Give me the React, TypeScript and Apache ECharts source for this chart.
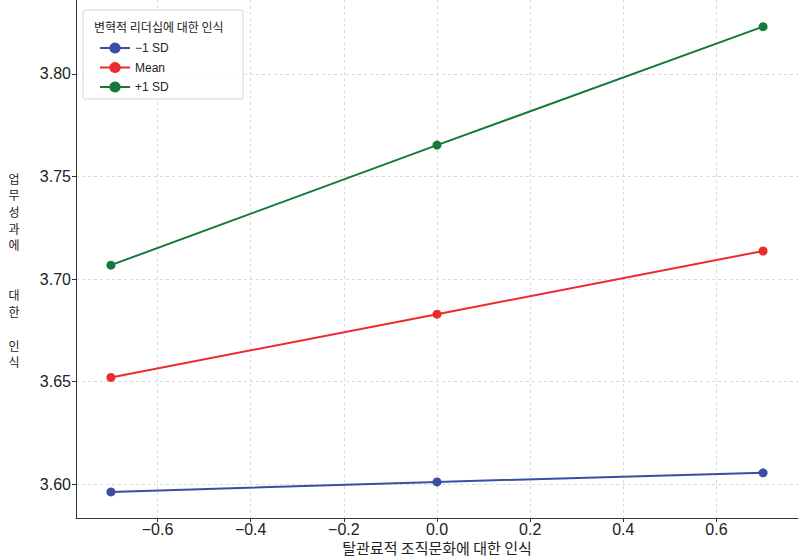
import React, { useEffect, useRef } from "react";
import * as echarts from "echarts";

const xValues = [-0.7, 0.0, 0.7];
const seriesNames = ["−1 SD", "Mean", "+1 SD"];
const lowValues = [3.5963, 3.6012, 3.6056];
const meanValues = [3.6521, 3.6829, 3.7137];
const highValues = [3.7068, 3.7653, 3.823];
const seriesColors = ["#3a4ea6", "#ed2a2e", "#147a3b"];
const xTitle = "탈관료적 조직문화에 대한 인식";
const yTitleLines = ["업", "무", "성", "과", "에", "", "", "대", "한", "", "인", "식"];
const legendTitle = "변혁적 리더십에 대한 인식";

const numFont = "'Liberation Sans', 'Noto Sans CJK KR', sans-serif";
const krFont = "'Noto Sans CJK KR', 'Liberation Sans', sans-serif";

export default function App() {
  const ref = useRef<HTMLDivElement>(null);
  useEffect(() => {
    if (!ref.current) return;
    const chart = echarts.init(ref.current, null, { renderer: "svg" });
    const allValues = [lowValues, meanValues, highValues];
    const series = allValues.map((vals, i) => ({
      name: seriesNames[i],
      type: "line",
      data: xValues.map((x, j) => [x, vals[j]]),
      symbol: "circle",
      symbolSize: 9,
      lineStyle: { color: seriesColors[i], width: 2 },
      itemStyle: { color: seriesColors[i] },
      z: 3,
    }));
    const yTitleStep = 16.7;
    const yTitleTop = 178;
    const yTitleTexts = yTitleLines
      .map((ch, i) => ({ ch, i }))
      .filter((d) => d.ch !== "")
      .map((d) => ({
        type: "text",
        x: 14,
        y: yTitleTop + d.i * yTitleStep,
        style: {
          text: d.ch,
          font: `12px ${krFont}`,
          fill: "#222",
          textAlign: "center",
          textVerticalAlign: "middle",
        },
      }));
    chart.setOption({
      animation: false,
      backgroundColor: "#ffffff",
      grid: { left: 76, right: 2, top: 0, bottom: 39, containLabel: false },
      xAxis: {
        type: "value",
        min: -0.775,
        max: 0.775,
        splitNumber: 8,
        axisLine: { show: true, onZero: false, lineStyle: { color: "#333", width: 1 } },
        axisTick: { show: true, inside: false, length: 4, lineStyle: { color: "#333" } },
        axisLabel: {
          showMinLabel: false,
          showMaxLabel: false,
          margin: 3,
          fontSize: 16,
          fontFamily: numFont,
          color: "#222",
          formatter: (v: number) => (v < 0 ? "−" + Math.abs(v).toFixed(1) : v.toFixed(1)),
        },
        splitLine: {
          show: true,
          showMinLine: false,
          showMaxLine: false,
          lineStyle: { color: "#d0d0d0", type: [3, 3], width: 0.8 },
        },
      },
      yAxis: {
        type: "value",
        min: 3.5836,
        max: 3.836,
        splitNumber: 5,
        axisLine: { show: true, onZero: false, lineStyle: { color: "#333", width: 1 } },
        axisTick: { show: true, inside: false, length: 4, lineStyle: { color: "#333" } },
        axisLabel: {
          showMinLabel: false,
          showMaxLabel: false,
          margin: 5,
          fontSize: 16,
          fontFamily: numFont,
          color: "#222",
          formatter: (v: number) => v.toFixed(2),
        },
        splitLine: {
          show: true,
          showMinLine: false,
          showMaxLine: false,
          lineStyle: { color: "#d0d0d0", type: [3, 3], width: 0.8 },
        },
      },
      legend: {
        orient: "vertical",
        left: 94,
        top: 37,
        itemWidth: 30,
        itemHeight: 14,
        itemGap: 7.5,
        textStyle: { fontSize: 12, fontFamily: numFont, color: "#222" },
        data: seriesNames,
        z: 10,
      },
      graphic: [
        {
          type: "rect",
          shape: { x: 83, y: 10, width: 160, height: 89, r: 2 },
          style: { fill: "rgba(255,255,255,0.85)", stroke: "#d4d4d4", lineWidth: 1 },
          z: 5,
        },
        {
          type: "text",
          x: 94,
          y: 26,
          style: {
            text: legendTitle,
            font: `12px ${krFont}`,
            fill: "#222",
            textAlign: "left",
            textVerticalAlign: "middle",
          },
          z: 6,
        },
        ...yTitleTexts,
        {
          type: "text",
          x: 437,
          y: 547,
          style: {
            text: xTitle,
            font: `15px ${krFont}`,
            fill: "#222",
            textAlign: "center",
            textVerticalAlign: "middle",
          },
        },
      ],
      series,
    });
    return () => chart.dispose();
  }, []);
  return <div ref={ref} style={{ width: 800, height: 557, position: "absolute", left: 0, top: 0 }} />;
}
